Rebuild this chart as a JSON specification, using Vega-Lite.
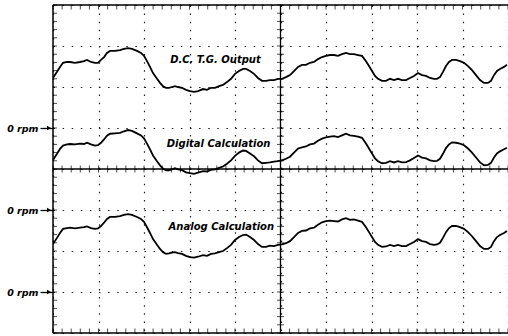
{
  "$schema": "https://vega.github.io/schema/vega-lite/v6.json",
  "width": 455,
  "height": 328,
  "autosize": {"type": "none"},
  "padding": {"left": 53, "top": 5, "right": 0, "bottom": 3},
  "background": "white",
  "config": {"view": {"stroke": null}},
  "datasets": {
    "one": [{}],
    "zero": [{"lvl": 1}, {"lvl": 3}, {"lvl": 5}],
    "traces": [
      {"t":0,"dc":6.22,"dg":4.22,"an":2.17},{"t":0.088,"dc":6.37,"dg":4.37,"an":2.32},{"t":0.154,"dc":6.49,"dg":4.49,"an":2.44},{"t":0.22,"dc":6.59,"dg":4.57,"an":2.54},{"t":0.308,"dc":6.61,"dg":4.6,"an":2.56},{"t":0.374,"dc":6.61,"dg":4.61,"an":2.57},{"t":0.484,"dc":6.59,"dg":4.6,"an":2.55},{"t":0.593,"dc":6.61,"dg":4.62,"an":2.57},{"t":0.681,"dc":6.63,"dg":4.61,"an":2.58},{"t":0.747,"dc":6.66,"dg":4.64,"an":2.6},{"t":0.835,"dc":6.61,"dg":4.6,"an":2.56},{"t":0.923,"dc":6.59,"dg":4.57,"an":2.54},{"t":0.989,"dc":6.59,"dg":4.58,"an":2.55},{"t":1.055,"dc":6.66,"dg":4.64,"an":2.61},{"t":1.121,"dc":6.73,"dg":4.72,"an":2.69},{"t":1.187,"dc":6.83,"dg":4.81,"an":2.78},{"t":1.253,"dc":6.88,"dg":4.86,"an":2.83},{"t":1.363,"dc":6.88,"dg":4.87,"an":2.83},{"t":1.473,"dc":6.9,"dg":4.88,"an":2.85},{"t":1.56,"dc":6.93,"dg":4.92,"an":2.88},{"t":1.648,"dc":6.95,"dg":4.95,"an":2.9},{"t":1.736,"dc":6.93,"dg":4.93,"an":2.88},{"t":1.846,"dc":6.88,"dg":4.87,"an":2.83},{"t":1.934,"dc":6.83,"dg":4.82,"an":2.78},{"t":2.0,"dc":6.76,"dg":4.75,"an":2.71},{"t":2.066,"dc":6.63,"dg":4.62,"an":2.58},{"t":2.132,"dc":6.49,"dg":4.48,"an":2.44},{"t":2.198,"dc":6.34,"dg":4.33,"an":2.29},{"t":2.286,"dc":6.2,"dg":4.19,"an":2.15},{"t":2.352,"dc":6.1,"dg":4.09,"an":2.05},{"t":2.418,"dc":6.02,"dg":4.01,"an":1.97},{"t":2.484,"dc":5.98,"dg":3.97,"an":1.93},{"t":2.549,"dc":5.98,"dg":3.97,"an":1.94},{"t":2.615,"dc":6.0,"dg":3.99,"an":1.96},{"t":2.681,"dc":6.02,"dg":4.02,"an":1.97},{"t":2.747,"dc":6.0,"dg":3.99,"an":1.95},{"t":2.835,"dc":5.98,"dg":3.97,"an":1.93},{"t":2.923,"dc":5.93,"dg":3.92,"an":1.88},{"t":3.011,"dc":5.9,"dg":3.9,"an":1.85},{"t":3.099,"dc":5.88,"dg":3.88,"an":1.84},{"t":3.187,"dc":5.9,"dg":3.91,"an":1.86},{"t":3.297,"dc":5.95,"dg":3.95,"an":1.9},{"t":3.385,"dc":5.93,"dg":3.94,"an":1.88},{"t":3.473,"dc":5.98,"dg":3.98,"an":1.93},{"t":3.56,"dc":5.98,"dg":3.99,"an":1.94},{"t":3.648,"dc":6.02,"dg":4.03,"an":1.97},{"t":3.736,"dc":6.05,"dg":4.06,"an":2.0},{"t":3.824,"dc":6.12,"dg":4.13,"an":2.07},{"t":3.912,"dc":6.2,"dg":4.21,"an":2.15},{"t":4.0,"dc":6.32,"dg":4.32,"an":2.27},{"t":4.088,"dc":6.39,"dg":4.4,"an":2.34},{"t":4.176,"dc":6.44,"dg":4.45,"an":2.39},{"t":4.242,"dc":6.44,"dg":4.44,"an":2.4},{"t":4.33,"dc":6.39,"dg":4.38,"an":2.34},{"t":4.418,"dc":6.32,"dg":4.31,"an":2.27},{"t":4.505,"dc":6.22,"dg":4.21,"an":2.17},{"t":4.593,"dc":6.15,"dg":4.14,"an":2.1},{"t":4.681,"dc":6.15,"dg":4.15,"an":2.1},{"t":4.769,"dc":6.17,"dg":4.16,"an":2.13},{"t":4.857,"dc":6.17,"dg":4.18,"an":2.12},{"t":4.945,"dc":6.2,"dg":4.19,"an":2.15},{"t":5.033,"dc":6.2,"dg":4.21,"an":2.16},{"t":5.121,"dc":6.24,"dg":4.25,"an":2.19},{"t":5.209,"dc":6.29,"dg":4.3,"an":2.24},{"t":5.297,"dc":6.39,"dg":4.4,"an":2.34},{"t":5.385,"dc":6.49,"dg":4.5,"an":2.44},{"t":5.473,"dc":6.54,"dg":4.53,"an":2.49},{"t":5.56,"dc":6.54,"dg":4.55,"an":2.5},{"t":5.648,"dc":6.59,"dg":4.6,"an":2.55},{"t":5.736,"dc":6.61,"dg":4.62,"an":2.57},{"t":5.824,"dc":6.68,"dg":4.69,"an":2.64},{"t":5.912,"dc":6.73,"dg":4.74,"an":2.7},{"t":6.0,"dc":6.76,"dg":4.77,"an":2.73},{"t":6.088,"dc":6.78,"dg":4.79,"an":2.74},{"t":6.176,"dc":6.78,"dg":4.8,"an":2.73},{"t":6.264,"dc":6.76,"dg":4.78,"an":2.72},{"t":6.352,"dc":6.8,"dg":4.82,"an":2.77},{"t":6.44,"dc":6.83,"dg":4.86,"an":2.8},{"t":6.527,"dc":6.8,"dg":4.82,"an":2.76},{"t":6.615,"dc":6.8,"dg":4.81,"an":2.77},{"t":6.703,"dc":6.78,"dg":4.79,"an":2.74},{"t":6.791,"dc":6.76,"dg":4.76,"an":2.71},{"t":6.879,"dc":6.63,"dg":4.62,"an":2.58},{"t":6.945,"dc":6.51,"dg":4.5,"an":2.46},{"t":7.011,"dc":6.39,"dg":4.38,"an":2.34},{"t":7.077,"dc":6.27,"dg":4.26,"an":2.22},{"t":7.143,"dc":6.2,"dg":4.19,"an":2.15},{"t":7.231,"dc":6.15,"dg":4.14,"an":2.1},{"t":7.319,"dc":6.15,"dg":4.15,"an":2.11},{"t":7.407,"dc":6.2,"dg":4.19,"an":2.15},{"t":7.495,"dc":6.17,"dg":4.16,"an":2.12},{"t":7.582,"dc":6.2,"dg":4.19,"an":2.15},{"t":7.67,"dc":6.17,"dg":4.16,"an":2.12},{"t":7.758,"dc":6.17,"dg":4.17,"an":2.12},{"t":7.846,"dc":6.22,"dg":4.21,"an":2.17},{"t":7.934,"dc":6.27,"dg":4.27,"an":2.22},{"t":8.022,"dc":6.34,"dg":4.33,"an":2.29},{"t":8.11,"dc":6.29,"dg":4.28,"an":2.24},{"t":8.198,"dc":6.27,"dg":4.26,"an":2.22},{"t":8.286,"dc":6.22,"dg":4.21,"an":2.17},{"t":8.374,"dc":6.2,"dg":4.19,"an":2.15},{"t":8.44,"dc":6.2,"dg":4.2,"an":2.16},{"t":8.505,"dc":6.24,"dg":4.25,"an":2.2},{"t":8.571,"dc":6.37,"dg":4.37,"an":2.32},{"t":8.637,"dc":6.51,"dg":4.51,"an":2.46},{"t":8.703,"dc":6.61,"dg":4.6,"an":2.56},{"t":8.769,"dc":6.66,"dg":4.65,"an":2.61},{"t":8.857,"dc":6.66,"dg":4.64,"an":2.61},{"t":8.945,"dc":6.63,"dg":4.62,"an":2.58},{"t":9.033,"dc":6.59,"dg":4.58,"an":2.54},{"t":9.121,"dc":6.51,"dg":4.5,"an":2.46},{"t":9.209,"dc":6.41,"dg":4.4,"an":2.36},{"t":9.297,"dc":6.29,"dg":4.28,"an":2.24},{"t":9.385,"dc":6.17,"dg":4.16,"an":2.12},{"t":9.473,"dc":6.1,"dg":4.09,"an":2.05},{"t":9.56,"dc":6.1,"dg":4.1,"an":2.05},{"t":9.626,"dc":6.15,"dg":4.15,"an":2.1},{"t":9.692,"dc":6.29,"dg":4.28,"an":2.24},{"t":9.758,"dc":6.39,"dg":4.38,"an":2.34},{"t":9.824,"dc":6.44,"dg":4.43,"an":2.39},{"t":9.912,"dc":6.49,"dg":4.48,"an":2.44},{"t":9.978,"dc":6.54,"dg":4.52,"an":2.49}
    ],
    "ticks": [
      {"u":0},{"u":0.2},{"u":0.4},{"u":0.6},{"u":0.8},{"u":1},{"u":1.2},{"u":1.4},{"u":1.6},{"u":1.8},{"u":2},{"u":2.2},{"u":2.4},{"u":2.6},{"u":2.8},{"u":3},{"u":3.2},{"u":3.4},{"u":3.6},{"u":3.8},{"u":4},{"u":4.2},{"u":4.4},{"u":4.6},{"u":4.8},{"u":5},{"u":5.2},{"u":5.4},{"u":5.6},{"u":5.8},{"u":6},{"u":6.2},{"u":6.4},{"u":6.6},{"u":6.8},{"u":7},{"u":7.2},{"u":7.4},{"u":7.6},{"u":7.8},{"u":8},{"u":8.2},{"u":8.4},{"u":8.6},{"u":8.8},{"u":9},{"u":9.2},{"u":9.4},{"u":9.6},{"u":9.8},{"u":10}
    ]
  },
  "layer": [
    {
      "data": {"name": "traces"},
      "transform": [{"fold": ["dc", "dg", "an"], "as": ["series", "v"]}],
      "mark": {"type": "line", "color": "black", "strokeWidth": 1.8, "clip": true},
      "encoding": {
        "x": {"field": "t", "type": "quantitative",
          "scale": {"domain": [0, 10], "nice": false, "zero": false},
          "axis": {"values": [0,1,2,3,4,5,6,7,8,9,10], "grid": true, "gridDash": [1.5, 6.6], "gridColor": "#222", "gridWidth": 1.2,
            "ticks": false, "labels": false, "domain": false, "title": null}},
        "y": {"field": "v", "type": "quantitative",
          "scale": {"domain": [0, 8], "nice": false, "zero": false},
          "axis": {"values": [0,1,2,3,4,5,6,7,8], "grid": true, "gridDash": [1.5, 7.6], "gridColor": "#222", "gridWidth": 1.2,
            "ticks": true, "tickSize": 13, "tickWidth": 1.3,
            "tickColor": {"condition": {"test": "datum.value == 1 || datum.value == 3 || datum.value == 5", "value": "black"}, "value": "transparent"},
            "domain": false, "title": null, "labelPadding": 2,
            "labelExpr": "(datum.value == 1 || datum.value == 3 || datum.value == 5) ? '0 rpm' : ''",
            "labelFont": "DejaVu Sans", "labelFontSize": 9.5, "labelFontWeight": "bold", "labelFontStyle": "italic", "labelColor": "black"}},
        "detail": {"field": "series", "type": "nominal"}
      }
    },
    {
      "data": {"name": "zero"},
      "mark": {"type": "point", "shape": "triangle-right", "filled": true, "color": "black", "size": 22, "opacity": 1, "xOffset": -4},
      "encoding": {
        "x": {"datum": 0, "type": "quantitative"},
        "y": {"field": "lvl", "type": "quantitative"}
      }
    },
    {
      "data": {"name": "one"},
      "mark": {"type": "rule", "color": "black", "strokeWidth": 1.5},
      "encoding": {"y": {"datum": 8, "type": "quantitative"}}
    },
    {
      "data": {"name": "one"},
      "mark": {"type": "rule", "color": "black", "strokeWidth": 1.5},
      "encoding": {"y": {"datum": 0, "type": "quantitative"}}
    },
    {
      "data": {"name": "one"},
      "mark": {"type": "rule", "color": "black", "strokeWidth": 1.5},
      "encoding": {"x": {"datum": 0, "type": "quantitative"}}
    },
    {
      "data": {"name": "one"},
      "mark": {"type": "rule", "color": "black", "strokeWidth": 1.3},
      "encoding": {"x": {"datum": 5, "type": "quantitative"}}
    },
    {
      "data": {"name": "one"},
      "mark": {"type": "rule", "color": "black", "strokeWidth": 1.3},
      "encoding": {"y": {"datum": 4, "type": "quantitative"}}
    },
    {
      "data": {"name": "ticks"},
      "mark": {"type": "tick", "orient": "vertical", "color": "black", "size": 7, "thickness": 1},
      "encoding": {
        "x": {"field": "u", "type": "quantitative"},
        "y": {"datum": 4, "type": "quantitative"}
      }
    },
    {
      "data": {"name": "ticks"},
      "transform": [{"filter": "datum.u <= 8"}],
      "mark": {"type": "tick", "orient": "horizontal", "color": "black", "size": 7, "thickness": 1},
      "encoding": {
        "y": {"field": "u", "type": "quantitative"},
        "x": {"datum": 5, "type": "quantitative"}
      }
    },
    {
      "data": {"name": "ticks"},
      "mark": {"type": "tick", "orient": "vertical", "color": "black", "size": 5, "thickness": 1, "yOffset": 2},
      "encoding": {
        "x": {"field": "u", "type": "quantitative"},
        "y": {"datum": 8, "type": "quantitative"}
      }
    },
    {
      "data": {"name": "ticks"},
      "mark": {"type": "tick", "orient": "vertical", "color": "black", "size": 5, "thickness": 1, "yOffset": -2},
      "encoding": {
        "x": {"field": "u", "type": "quantitative"},
        "y": {"datum": 0, "type": "quantitative"}
      }
    },
    {
      "data": {"name": "ticks"},
      "transform": [{"filter": "datum.u <= 8"}],
      "mark": {"type": "tick", "orient": "horizontal", "color": "black", "size": 4, "thickness": 1, "xOffset": 2},
      "encoding": {
        "y": {"field": "u", "type": "quantitative"},
        "x": {"datum": 0, "type": "quantitative"}
      }
    },
    {
      "data": {"name": "one"},
      "mark": {"type": "text", "text": "D.C. T.G. Output", "font": "DejaVu Sans", "fontSize": 10, "fontWeight": "bold", "fontStyle": "italic", "color": "black", "align": "center", "baseline": "middle"},
      "encoding": {
        "x": {"datum": 3.57, "type": "quantitative"},
        "y": {"datum": 6.66, "type": "quantitative"}
      }
    },
    {
      "data": {"name": "one"},
      "mark": {"type": "text", "text": "Digital Calculation", "font": "DejaVu Sans", "fontSize": 10, "fontWeight": "bold", "fontStyle": "italic", "color": "black", "align": "center", "baseline": "middle"},
      "encoding": {
        "x": {"datum": 3.64, "type": "quantitative"},
        "y": {"datum": 4.6, "type": "quantitative"}
      }
    },
    {
      "data": {"name": "one"},
      "mark": {"type": "text", "text": "Analog Calculation", "font": "DejaVu Sans", "fontSize": 10, "fontWeight": "bold", "fontStyle": "italic", "color": "black", "align": "center", "baseline": "middle"},
      "encoding": {
        "x": {"datum": 3.7, "type": "quantitative"},
        "y": {"datum": 2.58, "type": "quantitative"}
      }
    }
  ]
}
